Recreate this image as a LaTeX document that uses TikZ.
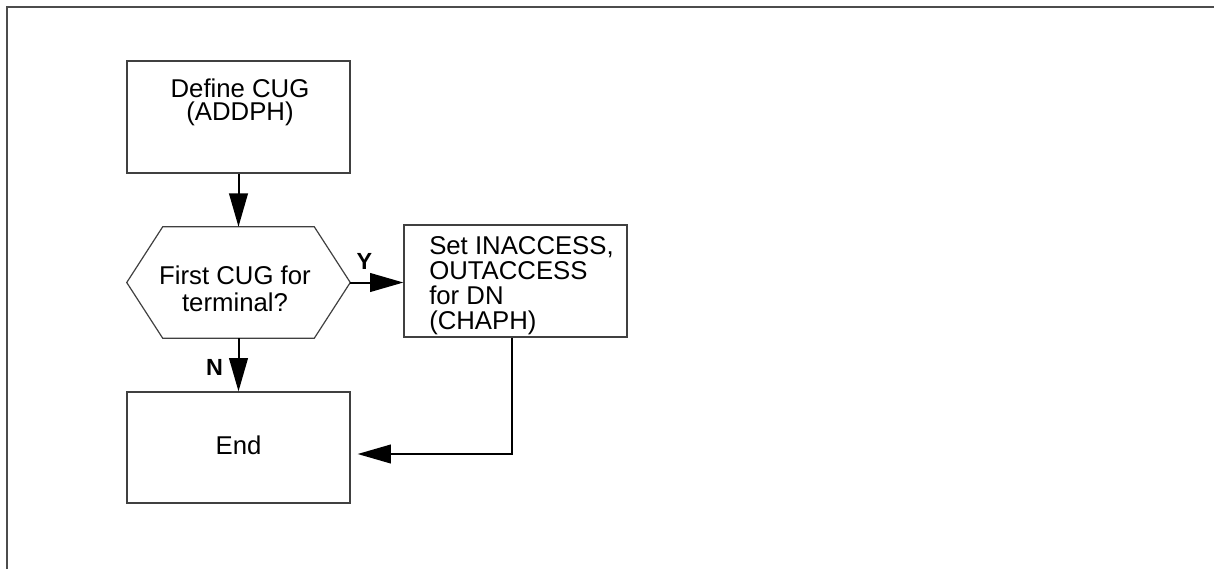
\documentclass[tikz,border=0pt]{standalone}
\usepackage{fontspec}
\setmainfont{Liberation Sans}
\usetikzlibrary{arrows.meta,calc}

\definecolor{framecol}{gray}{0.30}
\definecolor{boxcol}{gray}{0.25}

% one drawing unit = one pixel of the final image
\newcommand{\pxu}{0.75pt}

\tikzset{
  box/.style={draw=boxcol, line width=0.9pt, inner sep=0pt,
              minimum width=223*\pxu, minimum height=112*\pxu},
  hexbounds/.style={draw=none, inner sep=0pt,
              minimum width=223*\pxu, minimum height=111*\pxu},
  outline/.style={draw=boxcol, line width=0.9pt, line join=miter},
  txt/.style={inner sep=0pt, font=\fontsize{19.3}{19.3}\selectfont},
  yn/.style={inner sep=0pt, font=\bfseries\fontsize{17.5}{17.5}\selectfont},
  flow/.style={draw=black, line width=1.5pt,
               -{Triangle[length=25pt,width=14pt]}},
}

\begin{document}
\begin{tikzpicture}[x=0.75pt,y=-0.75pt]
  \useasboundingbox (0,0) rectangle (1214,569);

  % page frame, open on the right and bottom
  \draw[framecol, line width=1.1pt] (7,569) -- (7,7) -- (1214,7);

  % process boxes
  \node[box] (def) at (238.5,117) {};
  \node[box] (set) at (515.5,281) {};
  \node[box, minimum height=111*\pxu] (end) at (238.5,447.5) {};

  % decision hexagon
  \node[hexbounds] (hex) at (238.5,282.5) {};
  \draw[outline] (hex.west)
     -- ([xshift=36*\pxu]hex.north west) -- ([xshift=-36*\pxu]hex.north east)
     -- (hex.east)
     -- ([xshift=-36*\pxu]hex.south east) -- ([xshift=36*\pxu]hex.south west)
     -- cycle;

  % texts (base anchor sits on the last line)
  \node[txt, anchor=base, align=center,
        font=\fontsize{19.3}{17.2}\selectfont] (deftext) at (240,120)
        {Define CUG\\(ADDPH)};
  \node[txt, anchor=base, align=center,
        font=\fontsize{19.3}{20.25}\selectfont] (hextext) at (235,311)
        {First CUG for\\terminal?};
  \node[txt, anchor=base west, align=left,
        font=\fontsize{19.3}{18.75}\selectfont] (settext) at (429,329)
        {Set INACCESS,\\OUTACCESS\\for DN\\(CHAPH)};
  \node[txt, anchor=base] (endtext) at (238.5,454) {End};

  % branch labels
  \node[yn, anchor=base] (ylabel) at (364.5,269) {Y};
  \node[yn, anchor=base] (nlabel) at (214.5,375) {N};

  % connectors
  \draw[flow] (def.south) -- (hex.north);
  \draw[flow] (hex.east) -- (hex.east -| set.west);
  \draw[flow] (hex.south) -- (end.north);
  \coordinate (bend) at (512,454);
  \draw[flow] (set.south -| bend) -- (bend) -- ($(end.east |- bend)+(7,0)$);
\end{tikzpicture}
\end{document}
